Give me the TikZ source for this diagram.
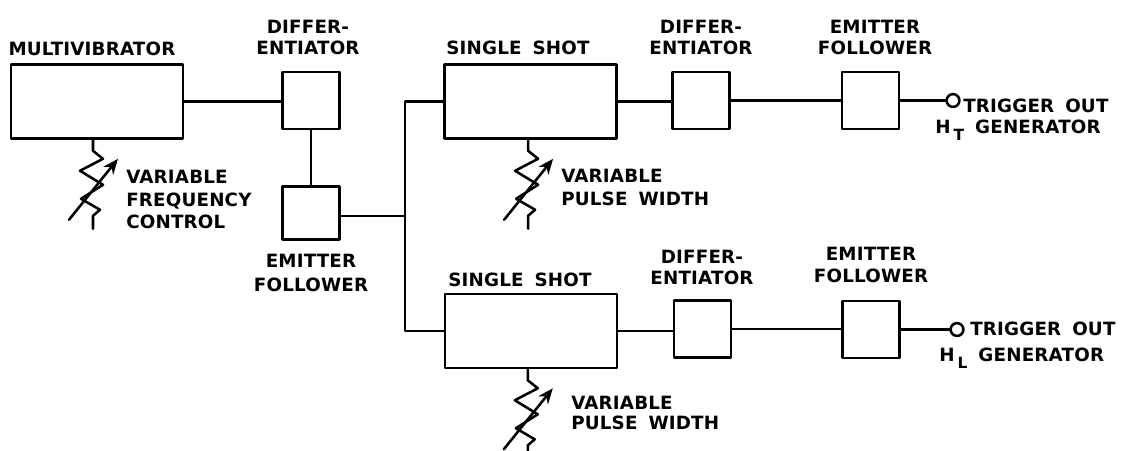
\documentclass[tikz,border=0pt]{standalone}
\usepackage{fontspec}
\setmainfont{DejaVu Sans}[LetterSpace=1]
\usetikzlibrary{arrows.meta,positioning}
\newcommand{\wgap}{\hspace{0.6em}}
\tikzset{
  every picture/.style={line width=1.8pt, line cap=round, line join=round},
  bigbox/.style={draw, minimum width=4.3cm, minimum height=1.85cm},
  smallbox/.style={draw, minimum width=1.42cm, minimum height=1.42cm},
  outpin/.style={draw, circle, inner sep=0pt, minimum size=0.32cm},
  lbl/.style={font=\bfseries\fontsize{13}{17}\selectfont, align=center, inner sep=0pt},
  lbll/.style={lbl, align=left, anchor=west},
  varres/.pic={
    \draw (0,0) -- (0,11) -- (10,19) -- (-13,31) -- (10,45) -- (-12,59) -- (7,70) -- (0,76) -- (0,89);
    \draw[-{Stealth[length=11pt,width=9pt]}] (-24,80) -- (25,19);
  }
}

\begin{document}
\begin{tikzpicture}[x=0.025cm,y=-0.025cm]
  \useasboundingbox (0,0) rectangle (1128,450);

  % blocks
  \node[bigbox] (mv) at (97,101.5) {};
  \node[smallbox] (dfa) at (311,100.5) {};
  \node[smallbox, minimum height=1.32cm] (efa) at (311,213) {};
  \node[bigbox] (ssa) at (530.5,101.5) {};
  \node[smallbox] (dfb) at (701,100.5) {};
  \node[smallbox] (efb) at (870.5,100.5) {};
  \node[bigbox] (ssb) at (531,331) {};
  \node[smallbox] (dfc) at (702.5,329) {};
  \node[smallbox] (efc) at (871,329.5) {};
  \node[outpin] (outT) at (953,100.5) {};
  \node[outpin] (outL) at (957,329.5) {};
  \coordinate (bus) at (405,0);

  % wiring
  \draw (mv.east) -- (mv.east -| dfa.west);
  \draw (dfa) -- (efa);
  \draw ([yshift=-0.08cm]efa.east) -- ([yshift=-0.08cm]efa.east -| bus);
  \draw (ssa.west) -- (ssa.west -| bus) -- (ssb.west -| bus) -- (ssb.west);
  \draw (ssa.east) -- (ssa.east -| dfb.west);
  \draw (dfb.east) -- (dfb.east -| efb.west);
  \draw (efb.east) -- (outT);
  \draw (ssb.east) -- (ssb.east -| dfc.west);
  \draw (dfc.east) -- (dfc.east -| efc.west);
  \draw (efc.east) -- (outL);

  % variable resistors
  \pic at ([xshift=-0.1cm]mv.south) {varres};
  \pic at ([xshift=-0.06cm]ssa.south) {varres};
  \pic at ([xshift=-0.08cm]ssb.south) {varres};

  % labels
  \node[lbl] (mvl) at (92,49) {MULTIVIBRATOR};
  \node[lbl] (dfal) at (308,37.5) {DIFFER-\\[-2pt]ENTIATOR};
  \node[lbl] (efal) at (311,273) {EMITTER\\FOLLOWER};
  \node[lbll] (vfl) at (125,199) {VARIABLE\\FREQUENCY\\[-2pt]CONTROL};
  \node[lbl] (ssal) at (518,48) {SINGLE\wgap SHOT};
  \node[lbll] (vpa) at (560,187.5) {VARIABLE\\PULSE\wgap WIDTH};
  \node[lbl] (dfbl) at (701,37.5) {DIFFER-\\[-2pt]ENTIATOR};
  \node[lbl] (efbl) at (875,37.5) {EMITTER\\[-2pt]FOLLOWER};
  \node[lbll] (trT) at (962,106) {TRIGGER\wgap OUT};
  \node[lbl, anchor=base west] (genT) at (934,133) {H\,\raisebox{-5pt}{\fontsize{11}{11}\selectfont T}\wgap GENERATOR};

  \node[lbl] (ssbl) at (520,280) {SINGLE\wgap SHOT};
  \node[lbll] (vpb) at (570,413) {VARIABLE\\[-3pt]PULSE\wgap WIDTH};
  \node[lbl] (dfcl) at (702,267.5) {DIFFER-\\[-2pt]ENTIATOR};
  \node[lbl] (efcl) at (871,265) {EMITTER\\[-2pt]FOLLOWER};
  \node[lbll] (trL) at (969,329) {TRIGGER\wgap OUT};
  \node[lbl, anchor=base west] (genL) at (938,361) {H\,\raisebox{-5pt}{\fontsize{11}{11}\selectfont L}\wgap GENERATOR};
\end{tikzpicture}
\end{document}
